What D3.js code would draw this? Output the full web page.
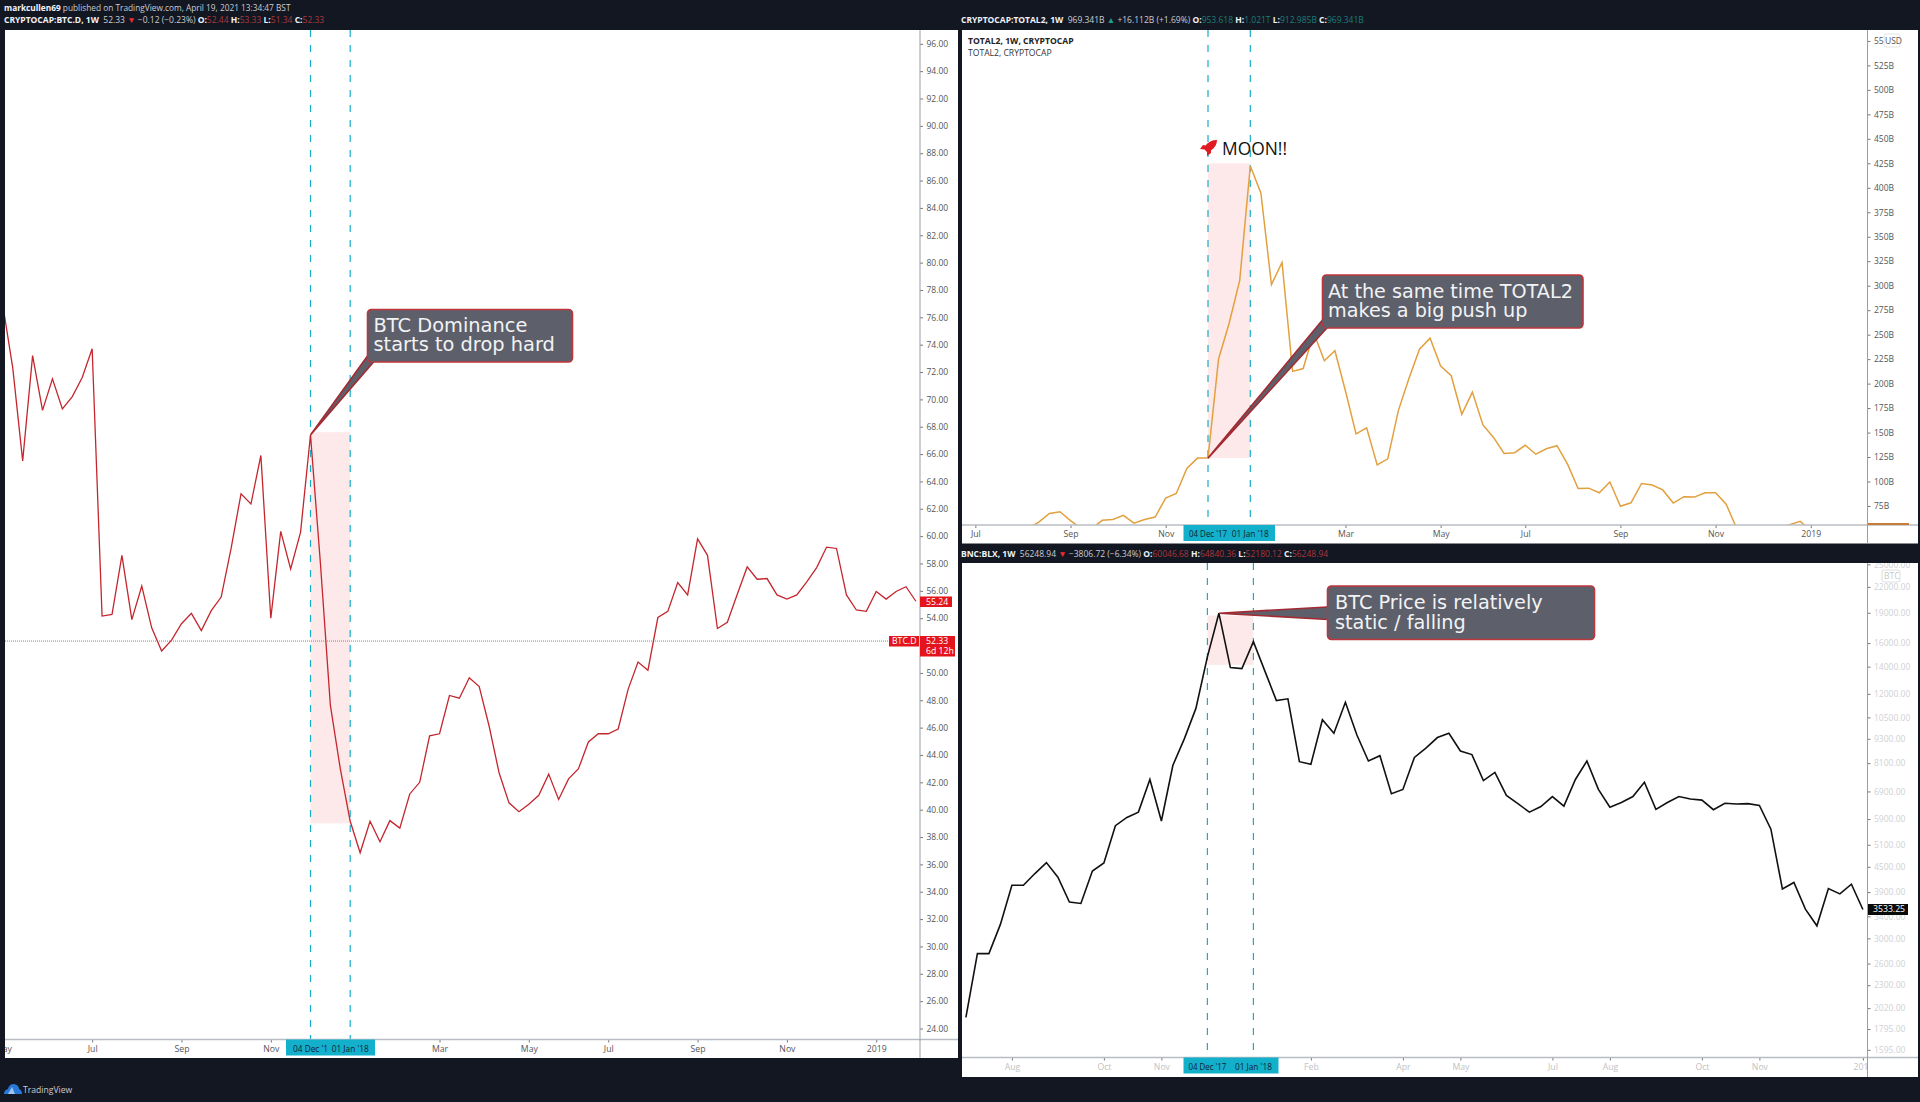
<!DOCTYPE html>
<html>
<head>
<meta charset="utf-8">
<script src="https://cdn.jsdelivr.net/npm/d3@7"></script>
<style>
  html, body { margin: 0; padding: 0; background: #131722; }
  svg { display: block; }
  text { font-family: "Open Sans", sans-serif; }
  .callout text { font-family: "DejaVu Sans", sans-serif; }
</style>
</head>
<body>
<div id="viz"></div>
<script>
// Weekly closes. First entry of each list is the first visible week.
const dominanceStart = '2017-05-01';
const dominanceValues = [76.9, 72.3, 65.5, 73.2, 69.2, 71.5, 69.3, 70.2, 71.6, 73.7,
  54.16, 54.27, 58.6, 53.9, 56.35, 53.3, 51.6, 52.4, 53.6, 54.35,
  53.1, 54.55, 55.55, 59.1, 63.1, 62.35, 65.9, 54.0, 60.35, 57.6,
  60.3, 67.4, 58, 47.65, 43, 39.15, 36.85, 39.15, 37.65, 39.2,
  38.65, 41.15, 42, 45.4, 45.55, 48.35, 48.15, 49.65, 49, 46.1,
  42.7, 40.5, 39.85, 40.4, 41.05, 42.6, 40.75, 42.25, 43, 44.95,
  45.55, 45.55, 45.9, 48.8, 50.8, 50.2, 54.05, 54.5, 56.6, 55.7,
  59.8, 58.6, 53.25, 53.7, 55.75, 57.75, 56.85, 56.9, 55.7, 55.4,
  55.7, 56.65, 57.7, 59.2, 59.1, 55.7, 54.6, 54.5, 55.95, 55.4,
  55.95, 56.3, 55.24];

const total2Start = '2017-08-07';
const total2Values = [52, 58.6, 67.4, 69.2, 60.1, 52, 52, 60.4, 61.2, 65.5,
  57.5, 61.2, 63.7, 83, 87.8, 113.3, 123.9, 123.9, 225.3, 261.7,
  305.5, 422.2, 394.8, 301.1, 323.7, 212.5, 215.4, 251.9, 223.4, 233.6,
  192.4, 148.7, 154.9, 117, 123.2, 172.4, 205.2, 235.1, 246.4, 218,
  208.1, 168.7, 191.3, 157.8, 145, 128.6, 129.4, 137, 127.9, 133.4,
  136.6, 117.7, 92.9, 93.2, 88.5, 99.5, 74.7, 78.3, 98, 96.5,
  91.4, 78, 84.5, 84.1, 88.5, 88.5, 76.8, 52, 50, 49,
  50, 52, 56, 59.3, 50, 48, 47, 46];

const btcStart = '2017-07-10';
const btcValues = [1916, 2752, 2752, 3247, 4053, 4053, 4332, 4610, 4243, 3687,
  3657, 4393, 4600, 5683, 5954, 6136, 7385, 5835, 8003, 9310,
  11048, 14795, 18953, 13926, 13845, 16135, 13649, 11548, 11665, 8167,
  8052, 10357, 9594, 11434, 9499, 8199, 8452, 6813, 6980, 8366,
  8817, 9365, 9594, 8677, 8503, 7339, 7689, 6745, 6439, 6136,
  6336, 6704, 6349, 7385, 8199, 6980, 6312, 6479, 6704, 7267,
  6235, 6479, 6704, 6611, 6569, 6222, 6453, 6426, 6439, 6373,
  5570, 3971, 4118, 3540, 3221, 3980, 3861, 4077, 3533.25];

// Price axis ticks
const dominanceTicks = [96, 94, 92, 90, 88, 86, 84, 82, 80, 78, 76, 74, 72, 70, 68, 66, 64, 62, 60,
  58, 56, 54, 50, 48, 46, 44, 42, 40, 38, 36, 34, 32, 30, 28, 26, 24];
const total2Ticks = [550, 525, 500, 475, 450, 425, 400, 375, 350, 325, 300, 275, 250, 225, 200, 175, 150, 125, 100, 75];
const btcTicks = [25000, 22000, 19000, 16000, 14000, 12000, 10500, 9300, 8100, 6900, 5900, 5100, 4500, 3900, 3400,
  3000, 2600, 2300, 2020, 1795, 1595];

// Time axis ticks
const dominanceTimeDates = ['2017-05-01', '2017-07-03', '2017-09-04', '2017-11-06', '2018-03-05', '2018-05-07', '2018-07-02', '2018-09-03', '2018-11-05', '2019-01-07'];
const dominanceTimeLabels = ['May', 'Jul', 'Sep', 'Nov', 'Mar', 'May', 'Jul', 'Sep', 'Nov', '2019'];
const total2TimeDates = ['2017-07-03', '2017-09-04', '2017-11-06', '2018-03-05', '2018-05-07', '2018-07-02', '2018-09-03', '2018-11-05', '2019-01-07'];
const total2TimeLabels = ['Jul', 'Sep', 'Nov', 'Mar', 'May', 'Jul', 'Sep', 'Nov', '2019'];
const btcTimeDates = ['2017-08-07', '2017-10-02', '2017-11-06', '2018-02-05', '2018-04-02', '2018-05-07', '2018-07-02', '2018-08-06', '2018-10-01', '2018-11-05', '2019-01-07'];
const btcTimeLabels = ['Aug', 'Oct', 'Nov', 'Feb', 'Apr', 'May', 'Jul', 'Aug', 'Oct', 'Nov', '2019'];

// The two marked weeks shared by all three panels
const markedDates = ['2017-12-04', '2018-01-01'];

// Header lines
const red = '#a8383e', teal = '#1d7d78', light = '#c9ccd3', white = '#f0f3fa';
const headerPublished = [['markcullen69', white, 700], [' published on TradingView.com, April 19, 2021 13:34:47 BST', light, 400]];
const headerDominance = [['CRYPTOCAP:BTC.D, 1W', white, 700], ['  52.33 ', light, 400], ['▼', '#ef2b33', 400], [' −0.12 (−0.23%) ', light, 400],
  ['O:', white, 700], ['52.44 ', red, 400], ['H:', white, 700], ['53.33 ', red, 400], ['L:', white, 700], ['51.34 ', red, 400], ['C:', white, 700], ['52.33', red, 400]];
const headerTotal2 = [['CRYPTOCAP:TOTAL2, 1W', white, 700], ['  969.341B ', light, 400], ['▲', '#1f9c90', 400], [' +16.112B (+1.69%) ', light, 400],
  ['O:', white, 700], ['953.618 ', teal, 400], ['H:', white, 700], ['1.021T ', teal, 400], ['L:', white, 700], ['912.985B ', teal, 400], ['C:', white, 700], ['969.341B', teal, 400]];
const headerBtc = [['BNC:BLX, 1W', white, 700], ['  56248.94 ', light, 400], ['▼', '#ef2b33', 400], [' −3806.72 (−6.34%) ', light, 400],
  ['O:', white, 700], ['60046.68 ', red, 400], ['H:', white, 700], ['64840.36 ', red, 400], ['L:', white, 700], ['52180.12 ', red, 400], ['C:', white, 700], ['56248.94', red, 400]];

const parseDate = d3.utcParse('%Y-%m-%d');
const svg = d3.select('#viz').append('svg').attr('width', 1920).attr('height', 1102);
svg.append('rect').attr('width', 1920).attr('height', 1102).attr('fill', '#131722');

function headerLine(x, y, parts, size) {
  const t = svg.append('text').attr('x', x).attr('y', y).attr('font-size', size).attr('xml:space', 'preserve');
  parts.forEach(p => t.append('tspan').text(p[0]).attr('fill', p[1]).attr('font-weight', p[2]));
}

function drawPanel(p) {
  const g = svg.append('g');
  g.append('rect').attr('x', p.left).attr('y', p.top).attr('width', p.right - p.left).attr('height', p.bottom - p.top).attr('fill', '#fff');

  const clipId = 'clip-' + p.name;
  svg.append('clipPath').attr('id', clipId).append('rect')
    .attr('x', p.left).attr('y', p.top).attr('width', p.axisX - p.left).attr('height', p.timeY - p.top);
  const clipAllId = 'clipall-' + p.name;
  svg.append('clipPath').attr('id', clipAllId).append('rect')
    .attr('x', p.left).attr('y', p.top).attr('width', p.right - p.left).attr('height', p.bottom - p.top);
  const clipTimeId = 'cliptime-' + p.name;
  svg.append('clipPath').attr('id', clipTimeId).append('rect')
    .attr('x', p.left).attr('y', p.timeY).attr('width', p.axisX - p.left).attr('height', p.bottom - p.timeY);

  const x = d3.scaleUtc().domain(markedDates.map(parseDate)).range(p.markedX);
  const y = p.y;
  const plot = g.append('g').attr('clip-path', `url(#${clipId})`);

  const [x0, x1] = markedDates.map(d => x(parseDate(d)));

  // pink band between the two marked weeks
  plot.append('rect').attr('x', x0).attr('width', x1 - x0)
    .attr('y', y(p.band[1])).attr('height', y(p.band[0]) - y(p.band[1]))
    .attr('fill', '#fde9e9');

  plot.selectAll('.marked').data([x0, x1]).enter().append('line')
    .attr('x1', d => d).attr('x2', d => d).attr('y1', p.top).attr('y2', p.timeY)
    .attr('stroke', '#14aec8').attr('stroke-width', 1.2).attr('stroke-dasharray', '7 8');

  const start = parseDate(p.start);
  const line = d3.line()
    .x((d, i) => x(d3.utcDay.offset(start, i * 7)))
    .y(d => y(d));
  plot.append('path').datum(p.values).attr('d', line).attr('fill', 'none')
    .attr('stroke', p.color).attr('stroke-width', p.lineWidth).attr('stroke-linejoin', 'miter');

  if (p.lastLine) {
    plot.append('line').attr('x1', p.left).attr('x2', p.axisX - 32).attr('y1', y(p.lastLine)).attr('y2', y(p.lastLine))
      .attr('stroke', '#ef2b33').attr('stroke-width', 1).attr('stroke-dasharray', '1 1').attr('opacity', 0.8);
  }

  // price axis
  const axisGroup = g.append('g').attr('clip-path', `url(#${clipAllId})`);
  const yAxis = axisGroup.append('g').attr('transform', `translate(${p.axisX},0)`)
    .call(d3.axisRight(y).tickValues(p.ticks).tickSize(3).tickPadding(3.5).tickFormat(p.tickFormat));
  yAxis.select('.domain').remove();
  yAxis.selectAll('.tick line').attr('stroke', '#777');
  yAxis.selectAll('text').attr('font-size', 8.5).attr('fill', p.labelColor).attr('font-family', '"Open Sans", sans-serif');

  // time axis, labels stop at the price axis
  const timeDates = p.timeDates.map(parseDate);
  const timeAxis = g.append('g').attr('clip-path', `url(#${clipTimeId})`).append('g').attr('transform', `translate(0,${p.timeY})`)
    .call(d3.axisBottom(x).tickValues(timeDates).tickSize(3).tickPadding(3)
      .tickFormat((d, i) => p.timeLabels[i]));
  timeAxis.select('.domain').remove();
  timeAxis.selectAll('.tick line').attr('stroke', '#777');
  timeAxis.selectAll('text').attr('font-size', 8.7).attr('fill', p.timeColor).attr('font-family', '"Open Sans", sans-serif').attr('y', p.timeTextY).attr('dy', 0);

  g.append('line').attr('x1', p.left).attr('x2', p.right).attr('y1', p.timeY).attr('y2', p.timeY).attr('stroke', '#b9bcc2').attr('stroke-width', 1.5);
  g.append('line').attr('x1', p.axisX).attr('x2', p.axisX).attr('y1', p.top).attr('y2', p.bottom).attr('stroke', '#9a9da3').attr('stroke-width', 1);

  // teal date chip under the marked weeks
  g.append('rect').attr('x', p.chip[0]).attr('width', p.chip[1] - p.chip[0]).attr('y', p.timeY).attr('height', p.chipH).attr('fill', '#13b0cb');
  g.selectAll('.chipLabel').data(p.chipLabels).enter().append('text')
    .attr('x', (d, i) => [x0, x1][i]).attr('y', p.timeY + p.timeTextY).attr('text-anchor', 'middle')
    .attr('font-size', 9).attr('fill', '#123').attr('textLength', (d, i) => p.chipWidths[i]).attr('lengthAdjust', 'spacingAndGlyphs').text(d => d);

  return { x, y, g };
}

function callout(c, tip) {
  const g = svg.append('g').attr('class', 'callout');
  const stroke = '#c0343c', fill = '#5d606b';
  g.append('path').attr('d', `M${c.base[0][0]},${c.base[0][1]}L${tip[0]},${tip[1]}L${c.base[1][0]},${c.base[1][1]}Z`)
    .attr('fill', fill).attr('stroke', '#a32a32').attr('stroke-width', 1.6);
  g.append('rect').attr('x', c.x).attr('y', c.y).attr('width', c.w).attr('height', c.h).attr('rx', 4)
    .attr('fill', fill).attr('stroke', stroke).attr('stroke-width', 1.6);
  g.append('path').attr('d', `M${c.base[0][0]},${c.base[0][1]}L${c.base[1][0]},${c.base[1][1]}`)
    .attr('stroke', fill).attr('stroke-width', 2.4);
  g.selectAll('text').data(c.lines).enter().append('text')
    .attr('x', c.textX).attr('y', (d, i) => c.textY + i * c.lineH)
    .attr('font-size', c.fontSize).attr('fill', '#f2f3f5').text(d => d);
}

function tag(x, y, w, h, fill, labels, anchorX) {
  svg.append('rect').attr('x', x).attr('y', y).attr('width', w).attr('height', h).attr('fill', fill);
  labels.forEach((l, i) => svg.append('text').attr('x', anchorX).attr('y', y + 8 + i * 10.2).attr('font-size', 8.7).attr('fill', '#fff').text(l));
}

headerLine(4, 11, headerPublished, 8.3);
headerLine(4, 22.5, headerDominance, 8.5);
headerLine(961, 22.5, headerTotal2, 8.5);
headerLine(961, 556.5, headerBtc, 8.5);

// Left panel: BTC dominance
const dominancePanel = drawPanel({
  name: 'dominance', left: 5, right: 958, top: 30, bottom: 1058, axisX: 920, timeY: 1039.5,
  markedX: [310.5, 350.2], band: [39, 67.6],
  y: d3.scaleLinear().domain([24, 96]).range([1028.5, 43.8]),
  start: dominanceStart, values: dominanceValues, color: '#c4262e', lineWidth: 1.3, lastLine: 52.33,
  ticks: dominanceTicks, tickFormat: d => d3.format('.2f')(d), labelColor: '#555',
  timeDates: dominanceTimeDates, timeLabels: dominanceTimeLabels, timeColor: '#555', timeTextY: 12,
  chip: [286, 375], chipH: 16, chipLabels: ["04 Dec '1", "01 Jan '18"], chipWidths: [35, 37]
});

// Top right panel: TOTAL2
const total2Panel = drawPanel({
  name: 'total2', left: 962, right: 1918, top: 30, bottom: 543.5, axisX: 1867.5, timeY: 525,
  markedX: [1208, 1250.3], band: [124, 425],
  y: d3.scaleLinear().domain([75, 525]).range([506, 65.4]),
  start: total2Start, values: total2Values, color: '#e2a03f', lineWidth: 1.5,
  ticks: total2Ticks, tickFormat: d => d + 'B', labelColor: '#555',
  timeDates: total2TimeDates, timeLabels: total2TimeLabels, timeColor: '#555', timeTextY: 12,
  chip: [1183.5, 1275], chipH: 16, chipLabels: ["04 Dec '17", "01 Jan '18"], chipWidths: [38, 37]
});

// Bottom right panel: BTC price, log scale
const btcPanel = drawPanel({
  name: 'btc', left: 962, right: 1918, top: 563, bottom: 1077, axisX: 1867.5, timeY: 1057.5,
  markedX: [1207.4, 1253.4], band: [14150, 18700],
  y: d3.scaleLog().domain([1595, 22000]).range([1049.8, 586.9]),
  start: btcStart, values: btcValues, color: '#111', lineWidth: 1.6,
  ticks: btcTicks, tickFormat: d => d3.format('.2f')(d), labelColor: '#cfd1d4',
  timeDates: btcTimeDates, timeLabels: btcTimeLabels, timeColor: '#c0c2c6', timeTextY: 12,
  chip: [1183.5, 1278.5], chipH: 16, chipLabels: ["04 Dec '17", "01 Jan '18"], chipWidths: [38, 37]
});

// Legend text and scale boxes
svg.append('text').attr('x', 968).attr('y', 44).attr('font-size', 8.6).attr('font-weight', 700).attr('fill', '#222').text('TOTAL2, 1W, CRYPTOCAP');
svg.append('text').attr('x', 968).attr('y', 56).attr('font-size', 8.6).attr('fill', '#333').text('TOTAL2, CRYPTOCAP');
svg.append('rect').attr('x', 1884).attr('y', 34).attr('width', 16).attr('height', 13).attr('rx', 2).attr('fill', '#fff').attr('stroke', '#e4e4e4');
svg.append('text').attr('x', 1885).attr('y', 44).attr('font-size', 8.5).attr('fill', '#555').text('USD');
svg.append('rect').attr('x', 1882).attr('y', 570).attr('width', 18).attr('height', 12).attr('rx', 2).attr('fill', '#fff').attr('stroke', '#ddd');
svg.append('text').attr('x', 1884).attr('y', 579).attr('font-size', 8.5).attr('fill', '#c8cacd').text('BTC');

// MOON marker, rocket drawn as a small path
const moonX = total2Panel.x(parseDate(markedDates[0]));
svg.append('path').attr('transform', `translate(${moonX},148)`)
  .attr('d', 'M9,-8 C4,-8 0,-6 -2.5,-2.5 L-5,-3 L-8,1 L-3.5,1.5 L-1,4 L-1,8 L3,5 L3,2.5 C7,0 9,-4 9,-8 Z')
  .attr('fill', '#e01b22');
svg.append('text').attr('x', 1222).attr('y', 154.5).attr('font-size', 17.4).attr('font-family', '"DejaVu Sans", sans-serif').attr('fill', '#111').text('MOON!!');

// Callouts, each tail pointing at its data point
callout({ x: 367.5, y: 309.5, w: 205, h: 52.5, base: [[367.5, 356], [373.5, 362]],
  lines: ['BTC Dominance', 'starts to drop hard'], textX: 373.5, textY: 331.5, lineH: 19, fontSize: 19.4 },
  [dominancePanel.x(parseDate(markedDates[0])), dominancePanel.y(67.4)]);
callout({ x: 1322.5, y: 275, w: 260.5, h: 53, base: [[1322.5, 320], [1327, 328]],
  lines: ['At the same time TOTAL2', 'makes a big push up'], textX: 1328, textY: 297.5, lineH: 19.5, fontSize: 19.2 },
  [total2Panel.x(parseDate(markedDates[0])), total2Panel.y(123.9)]);
callout({ x: 1327.5, y: 586, w: 267, h: 53.5, base: [[1327.5, 607], [1327.5, 619.5]],
  lines: ['BTC Price is relatively', 'static / falling'], textX: 1335, textY: 609, lineH: 19.5, fontSize: 19.3 },
  [btcPanel.x(parseDate('2017-12-11')), btcPanel.y(18953)]);

// Last price tags
tag(920, 596.5, 32, 10.5, '#e3141c', ['55.24'], 926);
tag(889, 636, 30, 10.5, '#e3141c', ['BTC.D'], 892);
tag(920, 636, 35, 20.5, '#e3141c', ['52.33', '6d 12h'], 926);
tag(1868, 904, 40, 11, '#0a0a0a', ['3533.25'], 1873);
svg.append('rect').attr('x', 1868).attr('y', 523).attr('width', 41).attr('height', 2).attr('fill', '#c97d3a');

// TradingView footer
const logo = svg.append('g').attr('transform', 'translate(4,1083)');
logo.append('path').attr('d', 'M0,11 Q0,7 4,6 Q5,1 10,1 Q15,2 15,6 Q18,7 18,11 Z').attr('fill', '#2a78d6');
logo.append('path').attr('d', 'M4,11 L8,4 L11,11 Z').attr('fill', '#9cc6f2');
svg.append('text').attr('x', 23).attr('y', 1092.5).attr('font-size', 8.6).attr('fill', '#c9ccd3').text('TradingView');
</script>
</body>
</html>
